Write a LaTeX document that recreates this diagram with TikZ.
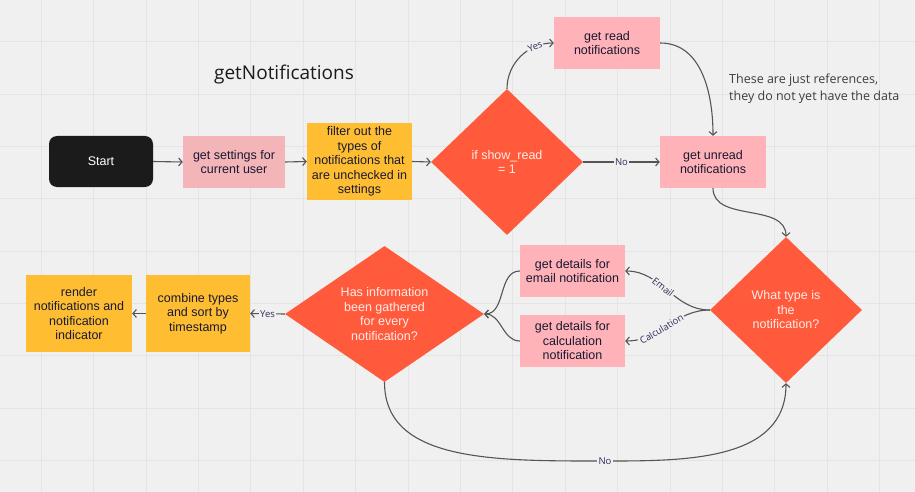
\documentclass[tikz,border=0pt]{standalone}
\usepackage{fontspec}
\setmainfont{Liberation Sans}
\newfontfamily\opensans{Open Sans}
\usetikzlibrary{arrows.meta,shapes.geometric}
\definecolor{bg}{RGB}{240,240,240}
\definecolor{gridc}{RGB}{228,228,228}
\definecolor{pinkA}{RGB}{255,179,184}
\definecolor{pinkB}{RGB}{244,181,184}
\definecolor{yel}{RGB}{255,190,50}
\definecolor{redd}{RGB}{255,90,60}
\definecolor{blk}{RGB}{27,27,27}
\definecolor{txt}{RGB}{25,25,50}
\definecolor{dtxt}{RGB}{255,236,230}
\definecolor{linec}{RGB}{85,85,85}
\definecolor{lblc}{RGB}{45,45,90}
\begin{document}
\begin{tikzpicture}[x=1pt,y=1pt,
  boxtext/.style={font=\fontsize{12.5}{14.5}\selectfont, text=txt, align=center},
  rbox/.style={boxtext, rectangle, inner sep=0pt},
  pinkbox/.style={rbox, fill=pinkA},
  pinkdim/.style={rbox, fill=pinkB},
  yelbox/.style={rbox, fill=yel},
  startbox/.style={rbox, fill=blk, text=white, rounded corners=8pt},
  decision/.style={diamond, fill=redd, inner sep=0pt},
  dtext/.style={font=\fontsize{12.5}{14.5}\selectfont, text=dtxt, align=center, inner sep=0pt},
  conn/.style={draw=linec, line width=1.1pt, -{Straight Barb[length=3.5pt,width=8pt,line width=1.1pt]}},
  lbl/.style={font=\opensans\fontsize{9.5}{11}\selectfont, text=lblc, fill=bg, inner sep=1.2pt},
]
\useasboundingbox (0,0) rectangle (915,-492);
\fill[bg] (0,0) rectangle (915,-492);
% grid
\foreach \k in {0,...,16} {
  \draw[gridc, line width=0.6pt] ({41+52.4*\k},0) -- ({41+52.4*\k},-492);
}
\foreach \k in {0,...,8} {
  \draw[gridc, line width=0.6pt] (0,{-41.7-52.3*\k}) -- (915,{-41.7-52.3*\k});
}

% title and note
\node[font=\opensans\fontsize{19}{22}\selectfont, text=blk, inner sep=0pt] (title) at (284,-75) {getNotifications};
\node[font=\opensans\fontsize{12.5}{17}\selectfont, text=blk!85, align=left, anchor=west, inner sep=0pt] (note) at (729,-88.5) {These are just references,\\they do not yet have the data};

% nodes
\node[startbox, minimum width=104pt, minimum height=51pt] (start) at (101,-161.5) {Start};
\node[pinkdim, minimum width=102pt, minimum height=52pt] (settings) at (234,-162) {get settings for\\current user};
\node[yelbox, minimum width=105pt, minimum height=77pt] (filter) at (359.5,-161.5) {filter out the\\types of\\notifications that\\are unchecked in\\settings};
\node[decision, minimum width=152pt, minimum height=146pt] (d1) at (507,-162) {};
\node[dtext] (d1t) at (507,-162) {if show\_read\\= 1};
\node[pinkbox, minimum width=106pt, minimum height=52pt] (getread) at (607,-43) {get read\\notifications};
\node[pinkbox, minimum width=106pt, minimum height=52pt] (getunread) at (713,-162) {get unread\\notifications};
\node[decision, minimum width=152pt, minimum height=146pt] (wt) at (786,-310) {};
\node[dtext] (wtt) at (786,-310) {What type is\\the\\notification?};
\node[pinkbox, minimum width=105pt, minimum height=52pt] (email) at (572.5,-271) {get details for\\email notification};
\node[pinkbox, minimum width=105pt, minimum height=52pt] (calc) at (572.5,-341) {get details for\\calculation\\notification};
\node[decision, minimum width=199pt, minimum height=136pt] (hi) at (384.5,-314) {};
\node[dtext] (hit) at (384.5,-314) {Has information\\been gathered\\for every\\notification?};
\node[yelbox, minimum width=104pt, minimum height=77pt] (combine) at (198,-313.5) {combine types\\and sort by\\timestamp};
\node[yelbox, minimum width=106pt, minimum height=77pt] (render) at (79,-313.5) {render\\notifications and\\notification\\indicator};

\coordinate (nobend) at (605,-461);

% connectors
\draw[conn] (start.east) -- (settings.west);
\draw[conn] (settings.east) -- (filter.west);
\draw[conn] (filter.east) -- (d1.west);
\draw[conn] (d1.east) -- node[lbl]{No} (getunread.west);
\draw[conn] (d1.north) to[out=90,in=180] node[lbl,sloped,pos=0.74]{Yes} (getread.west);
\draw[conn] (getread.east) to[out=0,in=90] (getunread.north);
\draw[conn] (getunread.south) to[out=-90,in=90] (wt.north);
\draw[conn] (wt.west) to[out=180,in=0] node[lbl,sloped,pos=0.56]{Email} (email.east);
\draw[conn] (wt.west) to[out=180,in=0] node[lbl,sloped,pos=0.58]{Calculation} (calc.east);
\draw[conn] (email.west) to[out=180,in=0] (hi.east);
\draw[conn] (calc.west) to[out=180,in=0] (hi.east);
\draw[conn] (hi.west) -- node[lbl]{Yes} (combine.east);
\draw[conn] (combine.west) -- (render.east);
\draw[conn] (hi.south) .. controls +(0,-80) and +(-110,0) .. (nobend) node[lbl]{No} .. controls +(80,0) and +(0,-78) .. (wt.south);
\end{tikzpicture}
\end{document}
